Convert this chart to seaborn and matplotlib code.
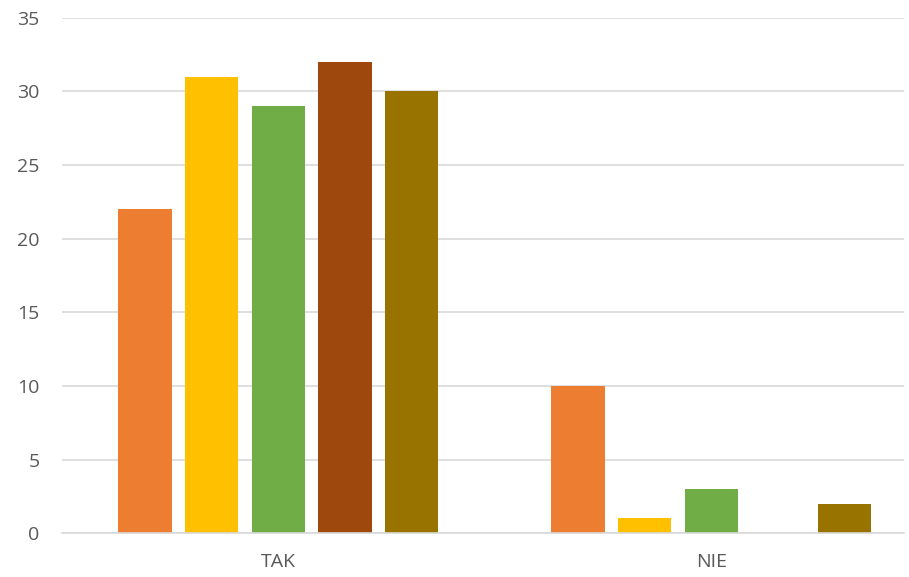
import seaborn as sns
import matplotlib.pyplot as plt
import pandas as pd

categories = ['TAK', 'NIE']
series = ['S1', 'S2', 'S3', 'S4', 'S5']
values = {
    'S1': [22, 10],
    'S2': [31, 1],
    'S3': [29, 3],
    'S4': [32, 0],
    'S5': [30, 2],
}
colors = ['#ED7D31', '#FFC000', '#70AD47', '#9E480E', '#997300']

rows = []
for s in series:
    for c, v in zip(categories, values[s]):
        rows.append({'cat': c, 'series': s, 'value': v})
df = pd.DataFrame(rows)

sns.set_style('white')
plt.rcParams['font.family'] = ['Open Sans', 'DejaVu Sans']

fig = plt.figure(figsize=(9.09, 5.77), dpi=100)
ax = fig.add_axes([0.068, 0.076, 0.927, 0.893])
sns.barplot(data=df, x='cat', y='value', hue='series', order=categories,
            hue_order=series, palette=colors, width=0.77, gap=0.2,
            saturation=1, linewidth=0, legend=False, ax=ax)

ax.set_xlim(-0.5, 1.446)
ax.set_ylim(0, 35)
ax.set_yticks(range(0, 36, 5))
ax.yaxis.grid(True, color='#D9D9D9', linewidth=1.2)
ax.set_axisbelow(True)
for sp in ['top', 'right', 'left']:
    ax.spines[sp].set_visible(False)
ax.spines['bottom'].set_color('#D9D9D9')
ax.spines['bottom'].set_linewidth(1.2)
ax.tick_params(axis='both', length=0, labelsize=14, colors='#595959')
ax.tick_params(axis='y', pad=16)
ax.tick_params(axis='x', pad=14)
ax.set_xlabel('')
ax.set_ylabel('')

fig.savefig('out.png', dpi=100)
